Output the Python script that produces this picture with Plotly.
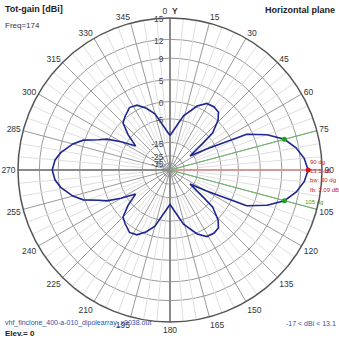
import numpy as np
import plotly.graph_objects as go

# ---- data (azimuth in degrees, total gain in dBi) ----
THETA = [0, 14, 23, 29, 35, 40, 44, 49, 51, 55, 60, 65, 70, 75, 80, 85,
         90, 95, 100, 105, 110, 115, 120, 125, 129, 131, 136, 140, 145, 151, 157, 166,
         180, 195, 201, 207, 213, 220, 225, 230, 235, 240, 244, 247, 251, 255, 261, 265,
         270, 275, 279, 285, 289, 293, 296, 300, 305, 310, 315, 320, 327, 333, 339, 345, 360]
GAIN = [-11.5, -3.5, 0.3, 1.9, 2.1, 1.75, 0.2, -3.3, -8.5, -17.0, -8.5, 3.8, 7.5, 10.1, 11.6, 12.6,
        13.1, 12.6, 11.6, 10.1, 7.5, 3.8, -8.5, -17.0, -8.5, -3.3, 0.2, 1.75, 2.1, 1.9, 0.3, -3.5,
        -11.5, -2.8, -0.6, 1.1, 1.5, 0.4, -0.5, -3.9, -8.3, -3.3, 0.5, 2.2, 5.3, 7.0, 8.8, 9.6,
        10.0, 9.6, 8.8, 7.0, 5.3, 2.2, 0.5, -3.3, -8.3, -3.9, -0.5, 0.4, 1.5, 1.1, -0.6, -2.8, -11.5]
RING_DB = [15, 12, 9, 5, 0, -5, -15, -25, -35]
ANGLE_TICKS = list(range(0, 360, 15))
MAX_DIR = 90
MAX_GAIN = 13.1
BW_EDGES = [75, 105]
BW = 30
FB = 3.09
FREQ = 174
ELEV = 0
MIN_GAIN = -17
FILE_NAME = "vhf_finclone_400-a-010_dipolearray_x0038.out"

TOP_DB = 15


def to_r(db):
    """Log-like radial scale of the reference (outer ring = 15 dBi)."""
    d = TOP_DB - np.asarray(db, dtype=float)
    return np.exp(-(0.0498 * d + 0.000231 * d ** 2))


W = H = 339
FONT = "Liberation Sans, Arial, sans-serif"

fig = go.Figure()

# minor 5-degree spokes
mr, mt = [], []
for a in range(0, 360, 5):
    if a % 15:
        mr += [float(to_r(-15)), 1.0, None]
        mt += [a, a, None]
fig.add_trace(go.Scatterpolar(r=mr, theta=mt, mode="lines",
                              line=dict(color="#dedede", width=1), hoverinfo="skip"))

# main axes
fig.add_trace(go.Scatterpolar(r=[1, 0, 1], theta=[0, 0, 180], mode="lines",
                              line=dict(color="#8a8a8a", width=2), hoverinfo="skip"))
fig.add_trace(go.Scatterpolar(r=[0, 1], theta=[270, 270], mode="lines",
                              line=dict(color="#8a8a8a", width=2), hoverinfo="skip"))
fig.add_trace(go.Scatterpolar(r=[0, 1], theta=[MAX_DIR, MAX_DIR], mode="lines",
                              line=dict(color="#d49a9a", width=2), hoverinfo="skip"))
# beamwidth lines
for a in BW_EDGES:
    fig.add_trace(go.Scatterpolar(r=[0, 1], theta=[a, a], mode="lines",
                                  line=dict(color="#6cb86c", width=1), hoverinfo="skip"))

# pattern
fig.add_trace(go.Scatterpolar(r=to_r(GAIN), theta=THETA, mode="lines",
                              line=dict(color="#1c2590", width=1.6), hoverinfo="skip"))

# markers
bw_gain = [GAIN[THETA.index(a)] for a in BW_EDGES]
fig.add_trace(go.Scatterpolar(r=to_r(bw_gain), theta=BW_EDGES, mode="markers",
                              marker=dict(color="#20a020", size=5), hoverinfo="skip"))
fig.add_trace(go.Scatterpolar(r=to_r([MAX_GAIN]), theta=[MAX_DIR], mode="markers",
                              marker=dict(color="#e01010", size=5), hoverinfo="skip"))

ang_text = [str(a) for a in ANGLE_TICKS]
ang_text[0] = "0  <b>Y</b>"

fig.update_layout(
    width=W, height=H,
    margin=dict(l=0, r=0, t=0, b=0),
    paper_bgcolor="white",
    showlegend=False,
    font=dict(family=FONT, size=8, color="#333333"),
    polar=dict(
        domain=dict(x=[18 / W, 322 / W], y=[1 - 322 / H, 1 - 18 / H]),
        bgcolor="white",
        radialaxis=dict(
            range=[0, 1],
            tickvals=list(to_r(RING_DB)),
            ticktext=[str(v) for v in RING_DB],
            angle=90, side="counterclockwise",
            showline=False, ticks="",
            gridcolor="#9a9a9a", gridwidth=1,
            tickfont=dict(size=8.5, color="#444444"),
        ),
        angularaxis=dict(
            rotation=90, direction="clockwise",
            tickmode="array", tickvals=ANGLE_TICKS, ticktext=ang_text,
            ticks="", showline=True, linecolor="#555555", linewidth=1.5,
            gridcolor="#9a9a9a", gridwidth=1,
            tickfont=dict(size=8.5, color="#333333"),
        ),
    ),
)


def px_note(text, x, y, size=9, color="#333333", anchor="left"):
    fig.add_annotation(text=text, x=x / W, y=1 - y / H, xref="paper", yref="paper",
                       xanchor=anchor, yanchor="middle", showarrow=False,
                       font=dict(family=FONT, size=size, color=color))


px_note("<b>Tot-gain [dBi]</b>", 3, 9, 9, "#222222")
px_note(f"Freq={FREQ}", 3, 25, 8, "#333333")
px_note("<b>Horizontal plane</b>", 337, 10, 9, "#222222", "right")
px_note(FILE_NAME, 3, 323, 7, "#3050a8")
px_note(f"<b>Elev.= {ELEV}</b>", 3, 333, 8, "#222222")
px_note(f"{MIN_GAIN} < dBi < {MAX_GAIN}", 338, 323, 7, "#3050a8", "right")

px_note(f"{MAX_DIR} dg", 308, 162, 6, "#cc2020")
px_note(f"{MAX_GAIN} dB", 308, 171, 6, "#cc2020")
px_note(f"bw: {BW} dg", 308, 180, 6, "#cc2020")
px_note(f"fb: {FB} dB", 308, 190, 6, "#cc2020")
px_note(f"{BW_EDGES[1]} dg", 303, 202, 6, "#30a030")

fig.write_html("out.html")
